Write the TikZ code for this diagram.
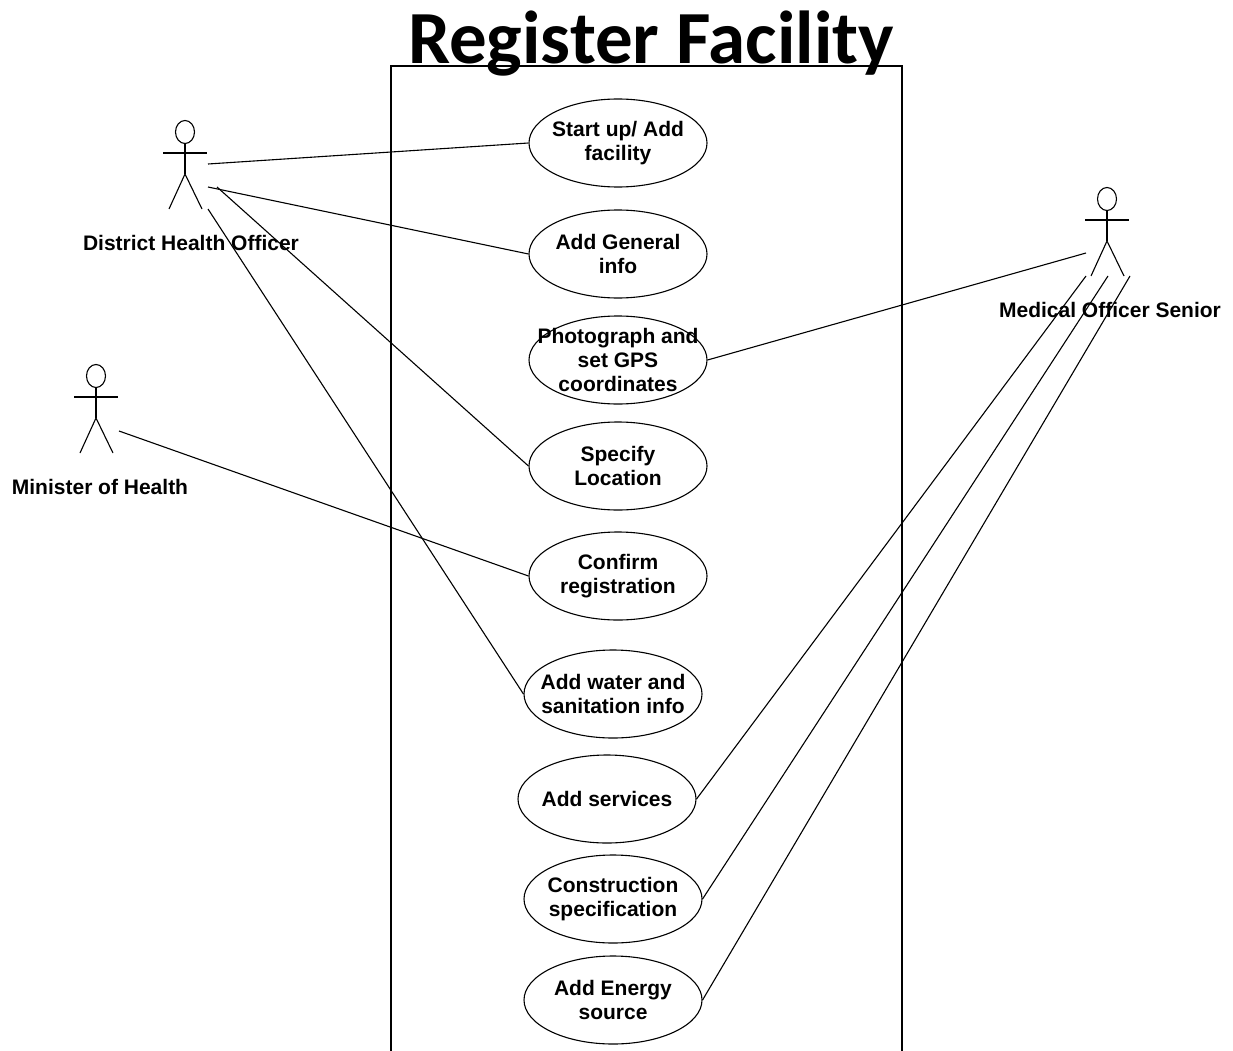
\documentclass[tikz,border=0pt]{standalone}
\usepackage{fontspec}
\setmainfont{Liberation Sans}
\newfontfamily\titlefont{Carlito}
\usetikzlibrary{shapes.geometric}
\tikzset{
  usecase/.style={ellipse, draw, line width=1.1pt, minimum width=178pt, minimum height=88pt, inner xsep=-30pt, inner ysep=-20pt, align=center, font=\fontsize{21}{24}\selectfont\bfseries},
  actorlabel/.style={font=\fontsize{21}{24}\selectfont\bfseries},
  link/.style={line width=1.1pt},
  actor/.pic={
    \draw[line width=1.1pt] (0,0) ellipse (9.5 and 11.5);
    \draw[line width=1.1pt] (0,11.5) -- (0,42) (-22,21) -- (22,21);
    \draw[line width=1.1pt] (-16,77) -- (0,42) -- (17,77);
  }
}
\begin{document}
\begin{tikzpicture}[x=1pt, y=-1pt]
\useasboundingbox (0,0) rectangle (1233,1051);

\node[font=\fontsize{75}{85}\selectfont\bfseries\titlefont] (title) at (651,44) {Register Facility};

% System boundary
\coordinate (boxbl) at (391,1051);
\coordinate (boxtl) at (391,66);
\coordinate (boxtr) at (902,66);
\coordinate (boxbr) at (902,1051);
\draw[line width=1.5pt] (boxbl) -- (boxtl) -- (boxtr) -- (boxbr);

% Use cases
\node[usecase] (startup) at (618,143) {Start up/ Add\\facility};
\node[usecase] (general) at (618,254) {Add General\\info};
\node[usecase] (photo) at (618,360) {Photograph and\\set GPS\\coordinates};
\node[usecase] (location) at (618,466) {Specify\\Location};
\node[usecase] (confirm) at (618,576) {Confirm\\registration};
\node[usecase] (water) at (613,694) {Add water and\\sanitation info};
\node[usecase] (services) at (607,799) {Add services};
\node[usecase] (construction) at (613,899) {Construction\\specification};
\node[usecase] (energy) at (613,1000) {Add Energy\\source};

% Actors
\pic at (185,132) {actor};
\pic at (96,376) {actor};
\pic at (1107,199) {actor};
\node[actorlabel] (dho) at (191,243) {District Health Officer};
\node[actorlabel] (moh) at (100,487) {Minister of Health};
\node[actorlabel] (mos) at (1110,310) {Medical Officer Senior};

\coordinate (dhoa) at (208,164);
\coordinate (dhob) at (208,187);
\coordinate (dhoc) at (217,187);
\coordinate (dhod) at (208,209);
\coordinate (moha) at (119,431);
\coordinate (mosa) at (1086,253);
\coordinate (mosb) at (1086,276);
\coordinate (mosc) at (1108,276);
\coordinate (mosd) at (1130,276);

\draw[link] (dhoa) -- (startup.west);
\draw[link] (dhob) -- (general.west);
\draw[link] (dhoc) -- (location.west);
\draw[link] (dhod) -- (water.west);
\draw[link] (moha) -- (confirm.west);
\draw[link] (mosa) -- (photo.east);
\draw[link] (mosb) -- (services.east);
\draw[link] (mosc) -- (construction.east);
\draw[link] (mosd) -- (energy.east);
\end{tikzpicture}
\end{document}
